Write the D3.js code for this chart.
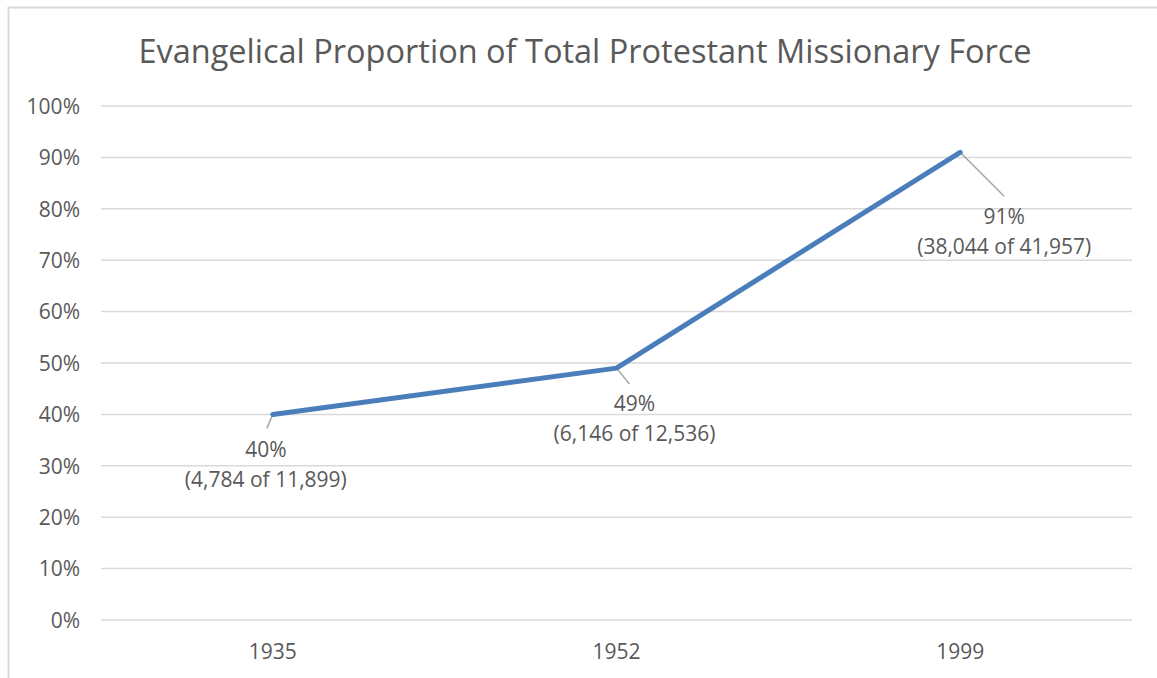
<!DOCTYPE html>
<html>
<head>
<meta charset="utf-8">
<script src="https://cdn.jsdelivr.net/npm/d3@7"></script>
<style>
  html, body { margin: 0; padding: 0; background: #fff; }
  svg { display: block; font-family: "Open Sans", sans-serif; }
</style>
</head>
<body>
<svg id="chart" width="1157" height="678"></svg>
<script>
const title = "Evangelical Proportion of Total Protestant Missionary Force";
const categories = ["1935", "1952", "1999"];
const values = [0.40, 0.49, 0.91];
const labelTop = ["40%", "49%", "91%"];
const labelBottom = ["(4,784 of 11,899)", "(6,146 of 12,536)", "(38,044 of 41,957)"];
const yTicks = [0, 0.1, 0.2, 0.3, 0.4, 0.5, 0.6, 0.7, 0.8, 0.9, 1.0];

const svg = d3.select("#chart");
const textColor = "#595959";
const fontFamily = "'Open Sans', sans-serif";
const labelSize = "21px";

// chart border
svg.append("rect").attr("x", 8.5).attr("y", 7.5).attr("width", 1170).attr("height", 690)
  .attr("fill", "none").attr("stroke", "#d9d9d9").attr("stroke-width", 2);

const x = d3.scaleBand().domain(categories).range([101, 1132]);
const y = d3.scaleLinear().domain([0, 1]).range([620, 106]);

// title
svg.append("text").attr("x", 585).attr("y", 52).attr("dy", "0.35em").attr("text-anchor", "middle")
  .attr("fill", textColor).style("font-size", "32.5px").text(title);

// gridlines
svg.append("g").selectAll("line").data(yTicks).join("line")
  .attr("x1", 101).attr("x2", 1132)
  .attr("y1", d => y(d)).attr("y2", d => y(d))
  .attr("stroke", "#d9d9d9").attr("stroke-width", 1.5);

// y axis
const yAxis = d3.axisLeft(y).tickValues(yTicks).tickFormat(d3.format(".0%")).tickSize(0).tickPadding(0);
const gy = svg.append("g").attr("transform", "translate(80,0)").call(yAxis);
gy.select(".domain").remove();
gy.selectAll("text").attr("fill", textColor).style("font-size", labelSize).style("font-family", fontFamily).attr("dy", "0.35em");

// x axis
const xAxis = d3.axisBottom(x).tickSize(0).tickPadding(0);
const gx = svg.append("g").attr("transform", "translate(0,652)").call(xAxis);
gx.select(".domain").remove();
gx.selectAll("text").attr("fill", textColor).style("font-size", labelSize).style("font-family", fontFamily).attr("dy", "0.35em");

const cx = d => x(d) + x.bandwidth() / 2;
const pts = categories.map((c, i) => ({ c, v: values[i], i }));
// label offsets (center of first line relative to point) and leader line ends
const labelOffsets = [[-7, 35], [18, 36], [44, 64]];
const leaderEnds = [[-6, 14], [13, 16], [44, 44]];

// leader lines
svg.append("g").selectAll("line").data(pts).join("line")
  .attr("x1", d => cx(d.c)).attr("y1", d => y(d.v))
  .attr("x2", d => cx(d.c) + leaderEnds[d.i][0])
  .attr("y2", d => y(d.v) + leaderEnds[d.i][1])
  .attr("stroke", "#a6a6a6").attr("stroke-width", 1.5);

// line
const line = d3.line().x(d => cx(d.c)).y(d => y(d.v));
svg.append("path").datum(pts).attr("d", line)
  .attr("fill", "none").attr("stroke", "#4a7ebb").attr("stroke-width", 5)
  .attr("stroke-linejoin", "round").attr("stroke-linecap", "round");

// data labels
const lbl = svg.append("g").selectAll("g").data(pts).join("g")
  .attr("transform", d => `translate(${cx(d.c) + labelOffsets[d.i][0]},${y(d.v) + labelOffsets[d.i][1]})`);
lbl.append("text").attr("text-anchor", "middle").attr("y", 0).attr("dy", "0.35em")
  .attr("fill", textColor).style("font-size", labelSize).text(d => labelTop[d.i]);
lbl.append("text").attr("text-anchor", "middle").attr("y", 30).attr("dy", "0.35em")
  .attr("fill", textColor).style("font-size", labelSize).text(d => labelBottom[d.i]);
</script>
</body>
</html>
